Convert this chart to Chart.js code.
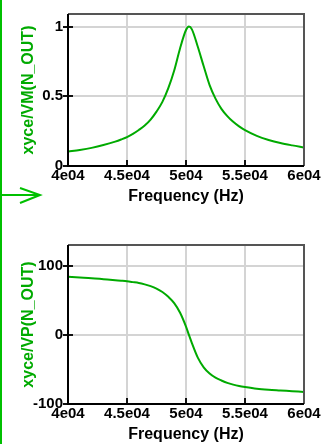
<!DOCTYPE html>
<html><head><meta charset="utf-8">
<script src="https://cdn.jsdelivr.net/npm/chart.js@4/dist/chart.umd.min.js"></script>
<style>
html,body{margin:0;padding:0;background:#fff;width:323px;height:444px;overflow:hidden;}
.wrap{position:absolute;left:0;width:323px;height:222px;}
#w1{top:0;} #w2{top:222px;}
svg#deco{position:absolute;left:0;top:0;pointer-events:none;}
</style></head><body>
<div class="wrap" id="w1"><canvas id="c1" width="323" height="222"></canvas></div>
<div class="wrap" id="w2"><canvas id="c2" width="323" height="222"></canvas></div>
<svg id="deco" width="323" height="444">
 <line x1="1" y1="0" x2="1" y2="444" stroke="#00c000" stroke-width="2"/>
 <line x1="0" y1="195" x2="40" y2="195" stroke="#00c000" stroke-width="2"/>
 <polyline points="20,188 40,195 20,203" fill="none" stroke="#00c000" stroke-width="2"/>
</svg>
<script>
const freqHz = [40000,41000,42000,43000,44000,44500,45000,45500,46000,46500,47000,47500,48000,48500,49000,49500,50000,50250,50500,51000,51500,52000,52500,53000,53500,54000,54500,55000,56000,57000,58000,59000,60000];
const vmMagnitude = [0.103,0.115,0.13,0.15,0.175,0.19,0.207,0.23,0.258,0.29,0.333,0.39,0.46,0.558,0.685,0.845,0.975,1.0,0.98,0.855,0.715,0.58,0.483,0.41,0.358,0.317,0.284,0.257,0.216,0.187,0.165,0.148,0.133];
const vpPhaseDeg = [84,83,82,80.5,79,78.3,77.5,76.3,75,73,70.5,67,62,55,46,32,12,0,-12,-33,-47,-56,-62,-66,-69.5,-72,-74,-75.5,-78,-79.5,-80.5,-81.5,-82.5];
const xTickValues = [40000,45000,50000,55000,60000];
const xTickLabels = ['4e04','4.5e04','5e04','5.5e04','6e04'];
const vmTickValues = [0,0.5,1];
const vmTickLabels = ['0','0.5','1'];
const vpTickValues = [-100,0,100];
const vpTickLabels = ['-100','0','100'];

const FONT = '"Liberation Sans", Arial, sans-serif';
const GREEN = '#00aa00';

const frame = {
  id: 'frame',
  afterDatasetsDraw(chart) {
    const {ctx, chartArea: a, scales} = chart;
    ctx.save();
    ctx.strokeStyle = '#111'; ctx.lineWidth = 2;
    scales.x.ticks.forEach(t => {
      const px = Math.round(scales.x.getPixelForValue(t.value));
      ctx.beginPath(); ctx.moveTo(px, a.bottom); ctx.lineTo(px, a.bottom - 6); ctx.stroke();
    });
    scales.y.ticks.forEach(t => {
      const py = Math.round(scales.y.getPixelForValue(t.value));
      ctx.beginPath(); ctx.moveTo(a.left - 5, py); ctx.lineTo(a.left + 5, py); ctx.stroke();
    });
    ctx.strokeStyle = '#555'; ctx.lineWidth = 2;
    ctx.beginPath(); ctx.moveTo(a.left, a.top); ctx.lineTo(a.right, a.top); ctx.lineTo(a.right, a.bottom); ctx.stroke();
    ctx.strokeStyle = '#000';
    ctx.beginPath(); ctx.moveTo(a.left, a.top); ctx.lineTo(a.left, a.bottom); ctx.lineTo(a.right, a.bottom); ctx.stroke();
    ctx.restore();
  }
};

function makeChart(id, yVals, yTitle, yMin, yMax, yTickVals, yTickLbls, padTop, xAxisH, xTitlePad) {
  return new Chart(document.getElementById(id), {
    type: 'line',
    data: { datasets: [{
      data: freqHz.map((f, i) => ({x: f, y: yVals[i]})),
      borderColor: GREEN, borderWidth: 2, pointRadius: 0, fill: false,
      cubicInterpolationMode: 'monotone'
    }]},
    options: {
      responsive: false, animation: false, devicePixelRatio: 1,
      layout: { padding: { top: padTop, right: 19, bottom: 0, left: 0 } },
      plugins: { legend: {display: false}, tooltip: {enabled: false} },
      scales: {
        x: {
          type: 'linear', min: 40000, max: 60000,
          afterBuildTicks: s => { s.ticks = xTickValues.map(v => ({value: v})); },
          afterFit: s => { s.height = xAxisH; },
          ticks: { callback: (v, i) => xTickLabels[i], font: {family: FONT, size: 15, weight: 'bold'}, color: '#000', padding: 1, maxRotation: 0, autoSkip: false },
          grid: { color: '#d4d4d4', lineWidth: 2, drawTicks: false },
          border: { display: false },
          title: { display: true, text: 'Frequency (Hz)', font: {family: FONT, size: 16, weight: 'bold'}, color: '#000', padding: {top: 0, bottom: xTitlePad} }
        },
        y: {
          type: 'linear', min: yMin, max: yMax,
          afterBuildTicks: s => { s.ticks = yTickVals.map(v => ({value: v})); },
          afterFit: s => { s.width = 68; },
          ticks: { callback: (v, i) => yTickLbls[i], font: {family: FONT, size: 15, weight: 'bold'}, color: '#000', padding: 5, autoSkip: false },
          grid: { color: '#d4d4d4', lineWidth: 2, drawTicks: false },
          border: { display: false },
          title: { display: true, text: yTitle, font: {family: FONT, size: 16, weight: 'bold'}, color: GREEN, padding: {top: 19, bottom: 0} }
        }
      }
    },
    plugins: [frame]
  });
}

makeChart('c1', vmMagnitude, 'xyce/VM(N_OUT)', 0, 1.09, vmTickValues, vmTickLabels, 7, 56, 16);
makeChart('c2', vpPhaseDeg, 'xyce/VP(N_OUT)', -100, 130, vpTickValues, vpTickLabels, 23, 40, 0);
</script>
</body></html>
